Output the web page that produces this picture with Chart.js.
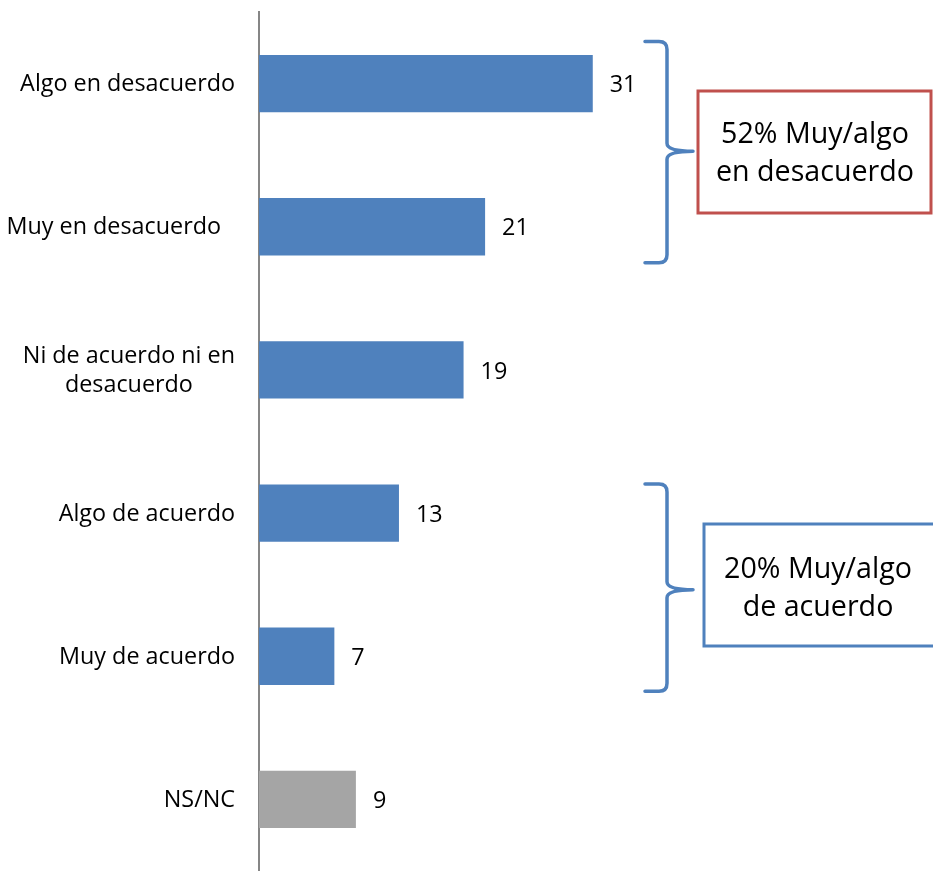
<!DOCTYPE html>
<html>
<head>
<meta charset="utf-8">
<script src="https://cdn.jsdelivr.net/npm/chart.js@4"></script>
<style>
  html, body { margin: 0; padding: 0; background: #fff; }
  #wrap { width: 933px; height: 871px; }
</style>
</head>
<body>
<div id="wrap"><canvas id="chart"></canvas></div>
<script>
// categories and values
const categories = [
  ['Algo en desacuerdo'],
  ['Muy en desacuerdo'],
  ['Ni de acuerdo ni en', 'desacuerdo'],
  ['Algo de acuerdo'],
  ['Muy de acuerdo'],
  ['NS/NC']
];
const values = [31, 21, 19, 13, 7, 9];
const barColors = ['#4F81BD', '#4F81BD', '#4F81BD', '#4F81BD', '#4F81BD', '#A5A5A5'];

// summary boxes with their bracket ranges (category indexes)
const groups = [
  { from: 0, to: 1, lines: ['52% Muy/algo', 'en desacuerdo'], color: '#C0504D' },
  { from: 3, to: 4, lines: ['20% Muy/algo', 'de acuerdo'], color: '#4F81BD' }
];

const FONT = '"Open Sans", sans-serif';

// pick a font size so the text has roughly the width seen in the picture
function fitSize(ctx, text, target) {
  ctx.font = '20px ' + FONT;
  return 20 * target / ctx.measureText(text).width;
}

// draws the category labels, right aligned, multi-line ones centered on each other
const labelPlugin = {
  id: 'labels',
  afterDraw(chart) {
    const ctx = chart.ctx;
    const y = chart.scales.y;
    ctx.save();
    const size = fitSize(ctx, 'Algo en desacuerdo', 215);
    ctx.font = size + 'px ' + FONT;
    ctx.fillStyle = '#000';
    ctx.textBaseline = 'middle';
    categories.forEach((lines, i) => {
      const cy = y.getPixelForValue(i) + 1;
      const right = i === 1 ? 221 : 235;
      const maxW = Math.max(...lines.map(l => ctx.measureText(l).width));
      const lh = 29;
      ctx.textAlign = 'center';
      lines.forEach((l, j) => {
        ctx.fillText(l, right - maxW / 2, cy + (j - (lines.length - 1) / 2) * lh);
      });
    });
    // value labels after each bar
    const meta = chart.getDatasetMeta(0);
    ctx.textAlign = 'left';
    meta.data.forEach((bar, i) => {
      ctx.fillText(String(values[i]), bar.x + 17, bar.y + 2);
    });
    ctx.restore();
  }
};

// bracket extents in px above the first / below the last bar centre
const braceExt = [[42, 36], [29, 35]];

// draws the curly brackets and the summary boxes
const bracePlugin = {
  id: 'braces',
  afterDraw(chart) {
    const ctx = chart.ctx;
    const y = chart.scales.y;
    ctx.save();
    const tsize = fitSize(ctx, '52% Muy/algo', 188);
    groups.forEach((g, gi) => {
      const top = y.getPixelForValue(g.from) - braceExt[gi][0];
      const bot = y.getPixelForValue(g.to) + braceExt[gi][1];
      const mid = (top + bot) / 2 + (gi === 0 ? -1 : 2);
      const x0 = 645, x1 = 667, x2 = 693, r = 8;
      ctx.strokeStyle = '#4F81BD';
      ctx.lineWidth = 3.5;
      ctx.lineCap = 'round';
      ctx.beginPath();
      ctx.moveTo(x0, top);
      ctx.lineTo(x1 - r, top);
      ctx.quadraticCurveTo(x1, top, x1, top + r);
      ctx.lineTo(x1, mid - r);
      ctx.quadraticCurveTo(x1, mid, x2, mid);
      ctx.moveTo(x2, mid);
      ctx.quadraticCurveTo(x1, mid, x1, mid + r);
      ctx.lineTo(x1, bot - r);
      ctx.quadraticCurveTo(x1, bot, x1 - r, bot);
      ctx.lineTo(x0, bot);
      ctx.stroke();

      // box
      const bx = gi === 0 ? 698 : 704;
      const bw = gi === 0 ? 233 : 240;
      const bh = 122;
      const by = gi === 0 ? 91 : 524;
      ctx.strokeStyle = g.color;
      ctx.lineWidth = 3;
      ctx.strokeRect(bx, by, bw, bh);
      ctx.fillStyle = '#000';
      ctx.font = tsize + 'px ' + FONT;
      ctx.textAlign = 'center';
      ctx.textBaseline = 'middle';
      const cx = gi === 0 ? 815 : 818;
      const tc = gi === 0 ? 154 : 589;
      g.lines.forEach((l, j) => {
        ctx.fillText(l, cx, tc + (j - 0.5) * 38);
      });
    });
    ctx.restore();
  }
};

new Chart(document.getElementById('chart'), {
  type: 'bar',
  data: {
    labels: categories,
    datasets: [{
      data: values,
      backgroundColor: barColors,
      borderWidth: 0,
      barPercentage: 0.4,
      categoryPercentage: 1
    }]
  },
  options: {
    indexAxis: 'y',
    responsive: true,
    maintainAspectRatio: false,
    animation: false,
    layout: { padding: { top: 12, right: 28, bottom: 0, left: 0 } },
    plugins: {
      legend: { display: false },
      tooltip: { enabled: false }
    },
    scales: {
      x: { display: false, min: 0, max: 60 },
      y: {
        grid: { display: false },
        border: { display: true, color: '#868686', width: 2 },
        ticks: { display: false },
        afterFit(scale) { scale.width = 259; }
      }
    }
  },
  plugins: [labelPlugin, bracePlugin]
});
</script>
</body>
</html>
